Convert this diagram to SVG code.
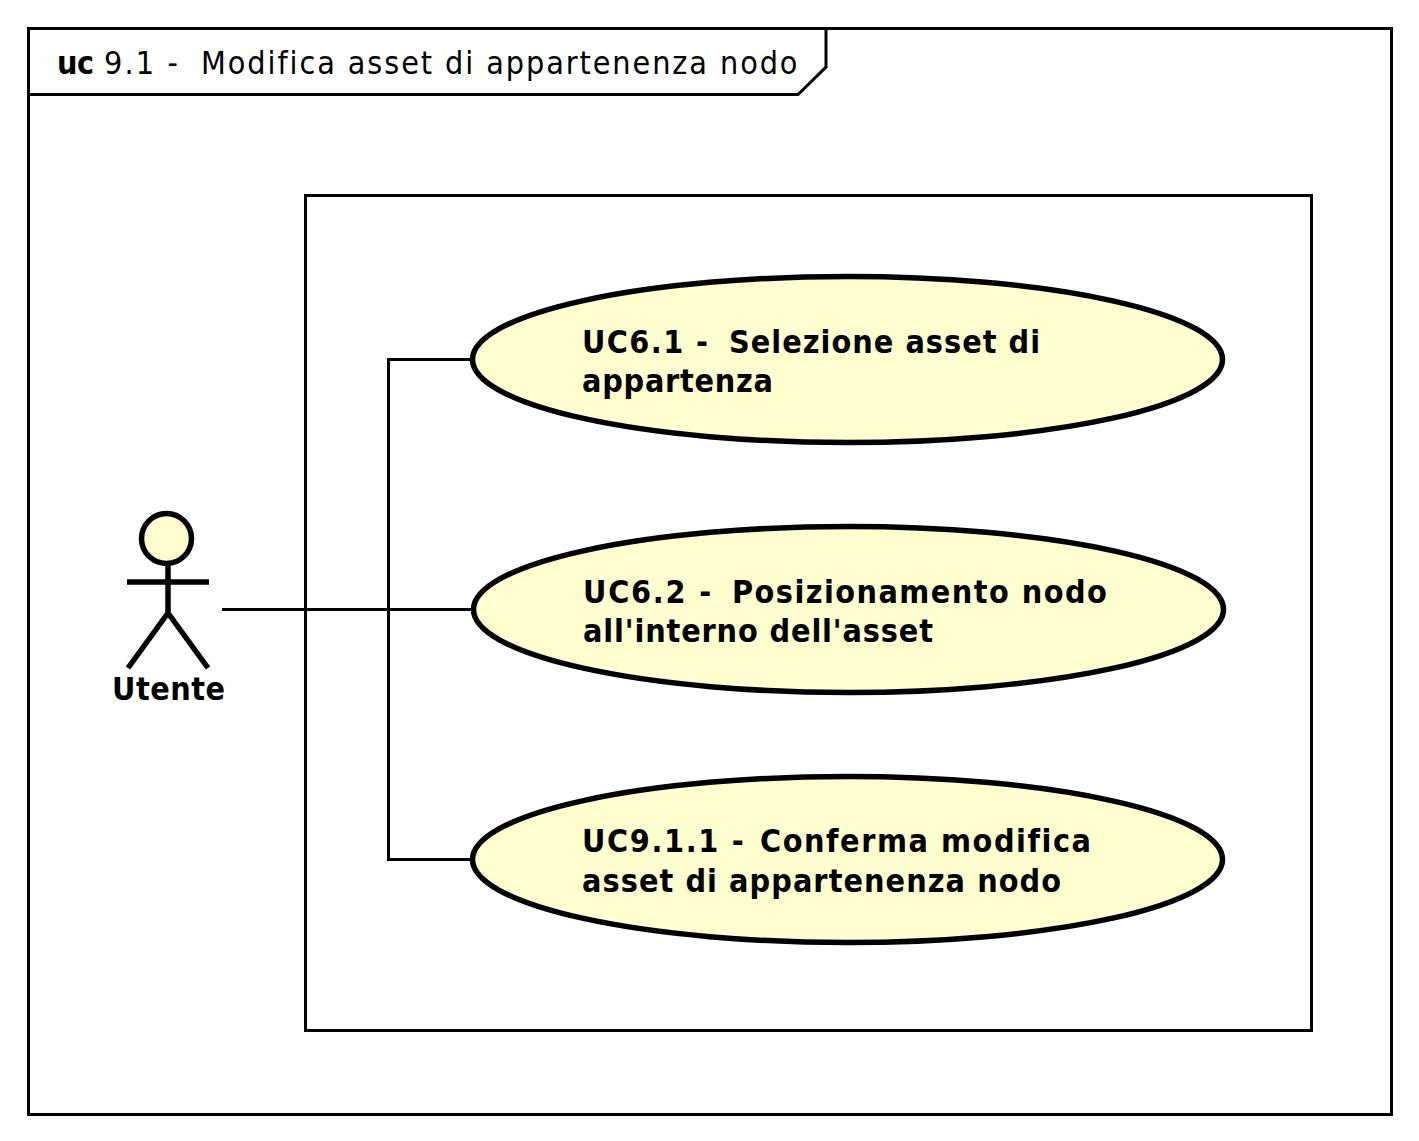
<svg xmlns="http://www.w3.org/2000/svg" width="1419" height="1141" viewBox="0 0 1419 1141">
<style>
.frame{fill:none;stroke:#000;stroke-width:3}
.uc{fill:#FEFECE;stroke:#000;stroke-width:5.500}
.ln{fill:none;stroke:#000;stroke-width:3}
.act{fill:none;stroke:#000;stroke-width:5.500}
text{font-family:"DejaVu Sans Condensed","DejaVu Sans",sans-serif;font-stretch:condensed;font-size:32px;fill:#000}
.b{font-weight:bold}
</style>
<rect width="1419" height="1141" fill="#fff"/>
<g id="frame">
<rect class="frame" x="28.500" y="28.500" width="1363" height="1086"/>
<path class="frame" d="M27 94.500H798L826 67V28.500"/>
<text x="57" y="74" class="b" textLength="37">uc</text>
<text x="104" y="74"><tspan letter-spacing="2.150">9.1 - </tspan><tspan x="201" letter-spacing="1.920">Modifica asset di appartenenza nodo</tspan></text>
</g>
<g id="boundary"><rect class="frame" x="305.500" y="195.500" width="1006" height="835"/></g>
<g id="connectors">
<path class="ln" d="M222 609.500H472M388.500 609.500V359.500H472M388.500 609.500V859.500H472"/>
</g>
<g id="uc1"><ellipse class="uc" cx="847.500" cy="359.500" rx="375" ry="83"/>
<text x="582" y="353" class="b"><tspan letter-spacing="1.420">UC6.1 - </tspan><tspan x="729" letter-spacing="1.030">Selezione asset di</tspan></text><text x="582" y="392" class="b" textLength="191">appartenza</text></g>
<g id="uc2"><ellipse class="uc" cx="848.500" cy="609.500" rx="375" ry="83"/>
<text x="583" y="603" class="b"><tspan letter-spacing="1.780">UC6.2 - </tspan><tspan x="732" letter-spacing="1.460">Posizionamento nodo</tspan></text><text x="583" y="642" class="b" textLength="350">all'interno dell'asset</text></g>
<g id="uc3"><ellipse class="uc" cx="847.500" cy="859.500" rx="375" ry="83"/>
<text x="582" y="852" class="b"><tspan letter-spacing="1.650">UC9.1.1 - </tspan><tspan x="760" letter-spacing="1.550">Conferma modifica</tspan></text><text x="582" y="892" class="b" textLength="479">asset di appartenenza nodo</text></g>
<g id="actor">
<circle cx="166.500" cy="538.500" r="25" fill="#FEFECE" stroke="#000" stroke-width="5.500"/>
<path class="act" d="M168 564V614M127 582H209M168 613L128 668M168 613L208 668"/>
<text x="112" y="700" class="b" textLength="113">Utente</text>
</g>
</svg>
